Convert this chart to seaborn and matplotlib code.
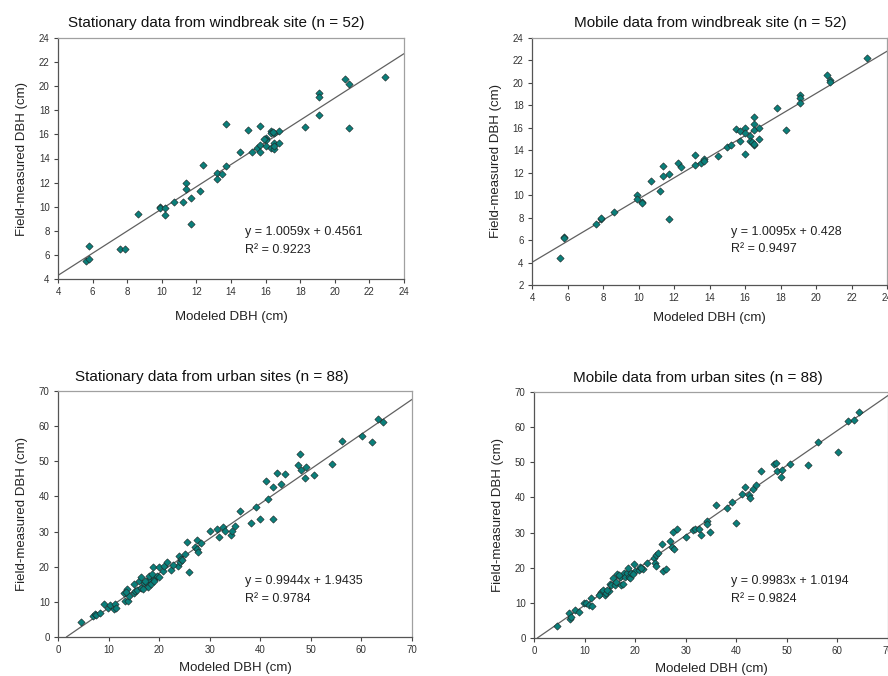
import numpy as np
import pandas as pd
import matplotlib
matplotlib.use("Agg")
import matplotlib.pyplot as plt
import seaborn as sns

# ---------------- data ----------------
sw_x = [5.6, 5.8, 5.8, 7.6, 7.9, 8.6, 9.9, 9.9, 10.2, 10.2, 10.7, 11.2, 11.4, 11.4, 11.7, 11.7,
        12.2, 12.4, 13.2, 13.2, 13.5, 13.7, 13.7, 14.5, 15.0, 15.2, 15.5, 15.7, 15.7, 15.7,
        16.0, 16.0, 16.0, 16.3, 16.3, 16.3, 16.5, 16.5, 16.5, 16.5, 16.8, 16.8, 18.3,
        19.1, 19.1, 19.1, 20.6, 20.8, 20.8, 22.9, 16.4, 15.9]
sw_y = [5.5, 5.7, 6.7, 6.5, 6.5, 9.4, 10.0, 9.9, 9.9, 9.3, 10.4, 10.4, 12.0, 11.5, 10.7, 8.6,
        11.3, 13.5, 12.8, 12.3, 12.7, 13.4, 16.9, 14.5, 16.4, 14.5, 14.9, 15.1, 14.5, 16.7,
        15.7, 15.5, 15.0, 16.3, 16.1, 14.9, 16.1, 15.3, 14.8, 15.0, 16.3, 15.3, 16.6,
        19.4, 19.1, 17.6, 20.6, 20.2, 16.5, 20.8, 16.2, 15.6]

mw_x = [5.6, 5.8, 5.8, 7.6, 7.9, 7.9, 8.6, 9.9, 9.9, 10.2, 10.2, 10.7, 11.2, 11.4, 11.4, 11.7, 11.7,
        12.2, 12.4, 13.2, 13.2, 13.5, 13.7, 13.7, 14.5, 15.0, 15.2, 15.5, 15.7, 15.7,
        16.0, 16.0, 16.0, 16.3, 16.3, 16.4, 16.5, 16.5, 16.5, 16.5, 16.5, 16.8, 16.8,
        17.8, 18.3, 19.1, 19.1, 19.1, 20.6, 20.8, 20.8, 22.9]
mw_y = [4.4, 6.3, 6.2, 7.4, 7.9, 8.0, 8.5, 10.0, 9.7, 9.4, 9.3, 11.3, 10.4, 12.6, 11.7, 11.9, 7.9,
        12.9, 12.5, 13.6, 12.7, 12.9, 13.2, 13.0, 13.5, 14.3, 14.5, 15.9, 15.7, 14.8,
        16.0, 15.5, 13.7, 15.3, 14.8, 14.7, 17.0, 16.3, 15.8, 14.5, 14.6, 16.0, 15.0,
        17.8, 15.8, 18.9, 18.7, 18.2, 20.7, 20.3, 20.1, 22.2]

su_x = [4.6, 7.0, 7.3, 7.6, 8.3, 9.0, 9.8, 10.3, 11.0, 11.2, 11.5,
        13.0, 13.2, 13.6, 13.8, 14.0, 15.0, 15.0, 15.2, 15.7, 16.0, 16.5, 16.5, 17.0, 17.5,
        17.8, 18.0, 18.0, 18.3, 18.8, 19.0, 19.0, 19.5, 20.0, 20.0, 20.8, 21.0, 21.5, 22.3,
        24.0, 23.8, 24.2, 24.3, 24.5, 25.2, 25.5, 26.0, 27.0, 27.4, 27.5, 27.7, 28.2, 30.0,
        31.5, 31.8, 32.7, 33.0, 34.3, 34.5, 35.0, 36.0, 38.2, 39.2, 40.0, 41.5, 41.2, 42.6,
        42.6, 43.4, 44.0, 44.8, 47.5, 47.8, 48.0, 48.8, 49.1, 50.6, 54.2, 56.2, 60.2, 62.0,
        63.3, 64.3, 13.5, 16.8, 17.2, 18.5, 22.8]
su_y = [4.3, 6.0, 6.5, 6.3, 6.7, 9.3, 8.2, 9.0, 8.0, 9.5, 8.3,
        12.5, 10.3, 13.8, 10.2, 11.8, 15.0, 12.5, 13.0, 13.5, 16.0, 17.0, 14.0, 15.5, 15.3,
        14.3, 16.5, 17.5, 15.2, 19.8, 16.5, 15.8, 17.3, 19.8, 17.0, 18.8, 20.2, 21.2, 19.2,
        23.0, 20.1, 21.2, 22.3, 21.8, 23.5, 27.0, 18.5, 25.5, 24.9, 27.6, 24.2, 26.8, 30.1,
        30.8, 28.4, 31.4, 30.2, 29.0, 30.3, 31.6, 35.8, 32.3, 37.1, 33.5, 39.3, 44.3, 42.6,
        33.5, 46.8, 43.4, 46.4, 49.0, 52.0, 47.5, 45.3, 48.3, 46.0, 49.2, 55.8, 57.1, 55.5,
        62.1, 61.2, 12.8, 13.8, 16.0, 17.8, 20.5]

mu_x = [4.6, 6.9, 7.1, 7.3, 8.2, 8.8, 9.8, 10.3, 10.8, 11.2, 11.4, 13.0, 13.3, 13.7, 14.0, 14.3,
        14.8, 15.0, 15.3, 15.7, 16.0, 16.2, 16.5, 17.0, 17.2, 17.5, 17.8, 18.0, 18.3, 18.5,
        18.7, 19.0, 19.2, 19.8, 20.0, 20.8, 21.0, 21.5, 22.3, 23.8, 24.0, 24.2, 24.2, 24.5,
        25.3, 25.6, 26.1, 26.9, 27.3, 27.5, 27.7, 28.2, 30.0, 31.5, 31.8, 32.7, 33.0, 34.3,
        34.3, 34.9, 35.9, 38.2, 39.2, 39.9, 41.2, 41.7, 42.6, 42.7, 43.4, 43.9, 44.8, 47.4,
        47.8, 48.1, 48.8, 49.1, 50.6, 54.2, 56.2, 60.2, 62.1, 63.3, 64.3, 12.8, 14.5, 16.8,
        19.5, 21.2]
mu_y = [3.5, 7.0, 5.5, 6.0, 8.0, 7.3, 10.1, 10.0, 9.5, 11.4, 9.0, 12.5, 13.0, 13.8, 12.2, 12.8,
        13.3, 15.5, 15.0, 17.0, 15.2, 16.0, 18.1, 17.5, 15.2, 15.4, 18.4, 17.3, 18.5, 20.0,
        17.4, 17.0, 18.5, 21.1, 19.0, 19.3, 20.3, 19.5, 21.3, 22.9, 21.3, 20.5, 23.6, 24.2,
        26.8, 19.2, 19.6, 27.7, 26.0, 30.3, 25.2, 30.9, 28.7, 30.7, 30.9, 30.9, 29.3, 33.3,
        32.5, 30.3, 37.9, 36.9, 38.8, 32.8, 40.9, 43.1, 40.6, 39.8, 42.3, 43.4, 47.4, 49.5,
        49.9, 47.4, 45.8, 47.8, 49.4, 49.3, 55.8, 52.8, 61.7, 61.9, 64.3, 12.3, 13.6, 17.8,
        18.2, 19.8]

titles = ["Stationary data from windbreak site (n = 52)",
          "Mobile data from windbreak site (n = 52)",
          "Stationary data from urban sites (n = 88)",
          "Mobile data from urban sites (n = 88)"]
equations = ["y = 1.0059x + 0.4561", "y = 1.0095x + 0.428",
             "y = 0.9944x + 1.9435", "y = 0.9983x + 1.0194"]
r2_labels = ["R² = 0.9223", "R² = 0.9497", "R² = 0.9784", "R² = 0.9824"]
# drawn trend lines
line_slope = [0.92, 0.94, 0.989, 0.995]
line_intercept = [0.62, 0.26, -1.63, -0.65]
x_ranges = [(4, 24, 2), (4, 24, 2), (0, 70, 10), (0, 70, 10)]
y_ranges = [(4, 24, 2), (2, 24, 2), (0, 70, 10), (0, 70, 10)]

# ---------------- style ----------------
sns.set_style("white")
plt.rcParams['font.family'] = ['Liberation Sans', 'DejaVu Sans']

W, H = 888, 676
fig = plt.figure(figsize=(W / 100, H / 100), dpi=100)

def box(l, r, t, b):
    return [l / W, 1 - b / H, (r - l) / W, (b - t) / H]

positions = [box(58, 404, 38, 279), box(532, 887, 38, 285),
             box(58, 412, 391, 637), box(534, 888, 392, 638)]
title_x = [0.457, 0.501, 0.435, 0.463]
title_pad = [8, 8, 7, 7]
text_pos = [(0.54, 0.195, 0.12), (0.56, 0.215, 0.146),
            (0.528, 0.228, 0.154), (0.556, 0.232, 0.159)]
xlabel_pad = [10, 6, 5, 5]

datasets = [(sw_x, sw_y), (mw_x, mw_y), (su_x, su_y), (mu_x, mu_y)]

for i, (xs, ys) in enumerate(datasets):
    ax = fig.add_axes(positions[i])
    df = pd.DataFrame({"Modeled DBH (cm)": xs, "Field-measured DBH (cm)": ys})
    ax.axline((0, line_intercept[i]), slope=line_slope[i], color="#606060", lw=0.9, zorder=1)
    sns.scatterplot(data=df, x="Modeled DBH (cm)", y="Field-measured DBH (cm)", ax=ax,
                    marker="D", s=14, color="#0a7f7a", edgecolor="#202020", linewidth=0.4,
                    zorder=3)
    x0, x1, xs_ = x_ranges[i]
    y0, y1, ys_ = y_ranges[i]
    ax.set_xlim(x0, x1)
    ax.set_ylim(y0, y1)
    ax.set_xticks(np.arange(x0, x1 + 0.1, xs_))
    ax.set_yticks(np.arange(y0, y1 + 0.1, ys_))
    ax.tick_params(axis="both", direction="out", length=3, width=0.8, color="#444444",
                   labelsize=7, labelcolor="#333333", pad=3)
    ax.tick_params(axis="both", which="both", bottom=True, left=True)
    for side in ["left", "bottom"]:
        ax.spines[side].set_color("#555555")
        ax.spines[side].set_linewidth(0.9)
    for side in ["top", "right"]:
        ax.spines[side].set_color("#a0a0a0")
        ax.spines[side].set_linewidth(0.9)
    ax.set_xlabel("Modeled DBH (cm)", fontsize=9.5, color="#222222", labelpad=xlabel_pad[i])
    ax.set_ylabel("Field-measured DBH (cm)", fontsize=9.5, color="#222222", labelpad=8)
    ax.set_title(titles[i], fontsize=11, x=title_x[i], pad=title_pad[i], color="#111111")
    tx, ty1, ty2 = text_pos[i]
    ax.text(tx, ty1, equations[i], transform=ax.transAxes, fontsize=9, va="center",
            ha="left", color="#222222")
    ax.text(tx, ty2, r2_labels[i], transform=ax.transAxes, fontsize=9, va="center",
            ha="left", color="#222222")

fig.savefig("out.png", dpi=100)
